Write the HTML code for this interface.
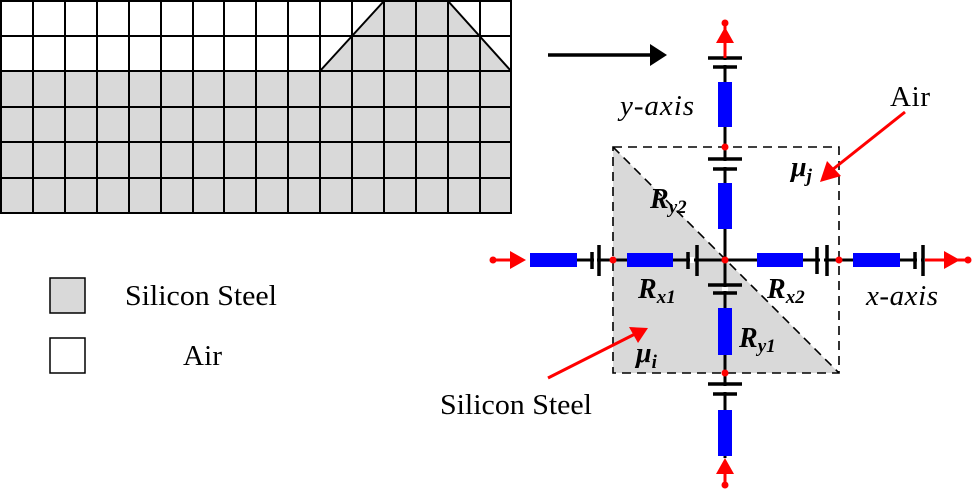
<!DOCTYPE html>
<html><head><meta charset="utf-8"><style>html,body{margin:0;padding:0;background:#fff}svg{display:block}</style></head>
<body>
<svg width="972" height="491" viewBox="0 0 972 491" xmlns="http://www.w3.org/2000/svg" font-family="Liberation Serif, serif">
<!-- grid -->
<rect x="1" y="71" width="510" height="142" fill="#d9d9d9"/>
<polygon points="320,71 384,1 448,1 511,71" fill="#d9d9d9"/>
<g stroke="#000" stroke-width="2" fill="none">
<rect x="1" y="1" width="510" height="212"/>
<path d="M1 36H511M1 71H511M1 107H511M1 142H511M1 178H511"/>
<path d="M33 1V213M65 1V213M97 1V213M129 1V213M161 1V213M193 1V213M224 1V213M256 1V213M288 1V213M320 1V213M352 1V213M384 1V213M416 1V213M448 1V213M480 1V213"/>
<path d="M320 71L384 1M448 1L511 71"/>
</g>
<!-- arrow -->
<line x1="548" y1="55" x2="652" y2="55" stroke="#000" stroke-width="3.5"/>
<polygon points="650,44 667,55 650,66" fill="#000"/>
<!-- legend -->
<rect x="50" y="278" width="35" height="35" fill="#d9d9d9" stroke="#000" stroke-width="1.5"/>
<rect x="50" y="338" width="35" height="35" fill="#fff" stroke="#000" stroke-width="1.5"/>
<text x="125" y="305" font-size="29" textLength="152" lengthAdjust="spacingAndGlyphs">Silicon Steel</text>
<text x="183" y="365" font-size="29" textLength="39">Air</text>
<!-- cell -->
<polygon points="613,147 613,373 839,373" fill="#d9d9d9"/>
<g stroke="#000" stroke-width="1.6" stroke-dasharray="9,6" fill="none">
<rect x="613" y="147" width="226" height="226"/>
<line x1="613" y1="147" x2="839" y2="373"/>
</g>
<!-- wires -->
<g stroke="#000" stroke-width="3">
<line x1="577" y1="260" x2="923" y2="260"/>
<line x1="725" y1="42" x2="725" y2="458"/>
</g>
<g stroke="#fff" stroke-width="6">
<line x1="594" y1="260" x2="597" y2="260"/><line x1="690" y1="260" x2="694" y2="260"/><line x1="820" y1="260" x2="824" y2="260"/><line x1="917" y1="260" x2="921" y2="260"/>
<line x1="725" y1="60" x2="725" y2="65"/><line x1="725" y1="161" x2="725" y2="167"/><line x1="725" y1="287" x2="725" y2="291"/><line x1="725" y1="386" x2="725" y2="392"/>
</g>
<!-- plates -->
<g stroke="#000" stroke-width="3.5">
<line x1="592" y1="252" x2="592" y2="269"/><line x1="599" y1="245" x2="599" y2="276"/>
<line x1="688" y1="252" x2="688" y2="269"/><line x1="697" y1="245" x2="697" y2="276"/>
<line x1="817" y1="247" x2="817" y2="274"/><line x1="827" y1="245" x2="827" y2="276"/>
<line x1="915" y1="252" x2="915" y2="269"/><line x1="923" y1="245" x2="923" y2="276"/>
<line x1="708" y1="58" x2="742" y2="58"/><line x1="713" y1="67" x2="737" y2="67"/>
<line x1="708" y1="159" x2="742" y2="159"/><line x1="713" y1="169" x2="737" y2="169"/>
<line x1="708" y1="285" x2="742" y2="285"/><line x1="713" y1="293" x2="737" y2="293"/>
<line x1="708" y1="384" x2="742" y2="384"/><line x1="713" y1="394" x2="737" y2="394"/>
</g>
<!-- resistors -->
<g fill="#0000ff">
<rect x="530" y="253" width="47" height="14"/><rect x="627" y="253" width="46" height="14"/>
<rect x="757" y="253" width="46" height="14"/><rect x="853" y="253" width="47" height="14"/>
<rect x="718" y="82" width="14" height="45"/><rect x="718" y="183" width="14" height="46"/>
<rect x="718" y="308" width="14" height="47"/><rect x="718" y="410" width="14" height="46"/>
</g>
<!-- red -->
<g fill="#ff0000" stroke="none">
<circle cx="493" cy="260" r="3.5"/><circle cx="613" cy="260" r="3.5"/><circle cx="725" cy="260" r="3.5"/><circle cx="839" cy="260" r="3.5"/><circle cx="968" cy="260" r="3.5"/>
<circle cx="725" cy="23" r="3.5"/><circle cx="725" cy="147" r="3.5"/><circle cx="725" cy="373" r="3.5"/><circle cx="725" cy="485" r="3.5"/>
<polygon points="510,251 526,260 510,269"/><polygon points="944,251 960,260 944,269"/>
<polygon points="716,43 725,27 734,43"/><polygon points="716,474 725,458 734,474"/>
</g>
<g stroke="#ff0000" stroke-width="3">
<line x1="493" y1="260" x2="512" y2="260"/><line x1="925" y1="260" x2="968" y2="260"/>
<line x1="725" y1="23" x2="725" y2="58"/><line x1="725" y1="472" x2="725" y2="485"/>
<line x1="905" y1="112" x2="832" y2="170"/><line x1="548" y1="378" x2="635" y2="334"/>
</g>
<polygon points="820,182 827,161 841,176" fill="#ff0000"/>
<polygon points="648,328 629,327 638,343" fill="#ff0000"/>
<!-- labels -->
<g font-style="italic" font-size="29">
<text x="620" y="115" textLength="74">y-axis</text>
<text x="866" y="305" textLength="72">x-axis</text>
</g>
<text x="890" y="106" font-size="29" textLength="40">Air</text>
<text x="440" y="414" font-size="29" textLength="152" lengthAdjust="spacingAndGlyphs">Silicon Steel</text>
<g font-style="italic" font-weight="bold" font-size="28">
<text x="650" y="208">R<tspan font-size="19" dy="5">y2</tspan></text>
<text x="638" y="298">R<tspan font-size="19" dy="5">x1</tspan></text>
<text x="767" y="298">R<tspan font-size="19" dy="5">x2</tspan></text>
<text x="739" y="347">R<tspan font-size="19" dy="5">y1</tspan></text>
<text x="791" y="176">μ<tspan font-size="19" dy="6">j</tspan></text>
<text x="636" y="362">μ<tspan font-size="19" dy="6">i</tspan></text>
</g>
</svg>
</body></html>
